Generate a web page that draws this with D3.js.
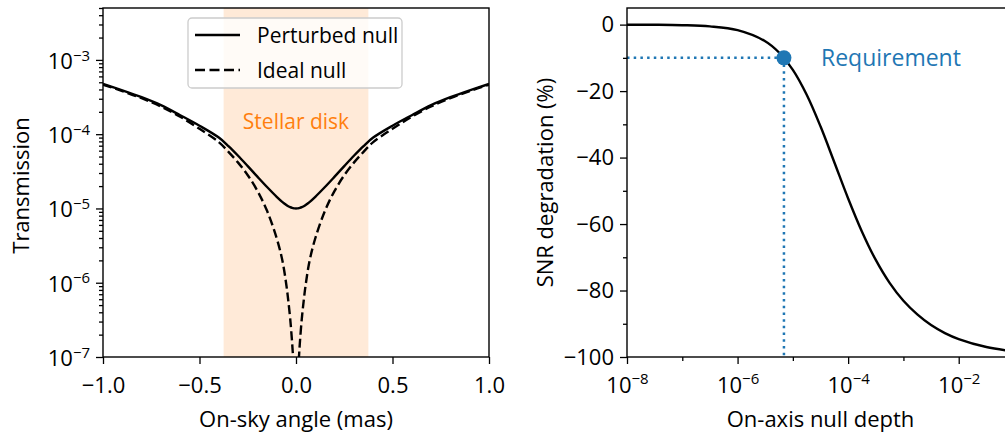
<!DOCTYPE html>
<html>
<head>
<meta charset="utf-8">
<script src="https://cdn.jsdelivr.net/npm/d3@7"></script>
<style>
  html, body { margin: 0; padding: 0; background: #fff; }
  svg { display: block; font-family: "Open Sans", "Noto Sans", sans-serif; }
  text { fill: #000; }
</style>
</head>
<body>
<svg id="chart" width="1005" height="434"></svg>
<script>
// ---------- Data ----------
// Left panel: transmission vs on-sky angle
const angle = [-1.0, -0.9, -0.8, -0.7, -0.6, -0.5, -0.4, -0.35, -0.3, -0.25, -0.2, -0.15, -0.1, -0.07, -0.05, -0.04, -0.03, -0.02, -0.015, -0.01, -0.005,
  0,
  0.005, 0.01, 0.015, 0.02, 0.03, 0.04, 0.05, 0.07, 0.1, 0.15, 0.2, 0.25, 0.3, 0.35, 0.4, 0.5, 0.6, 0.7, 0.8, 0.9, 1.0];
const perturbedNull = [4.75e-4, 3.9e-4, 3.15e-4, 2.46e-4, 1.8e-4, 1.3e-4, 9.0e-5, 6.92e-5, 5.13e-5, 3.72e-5, 2.68e-5, 1.944e-5, 1.436e-5, 1.219e-5, 1.114e-5, 1.072e-5, 1.04e-5, 1.0175e-5, 1.01e-5, 1.0043e-5, 1.001e-5,
  1.0e-5,
  1.001e-5, 1.0043e-5, 1.01e-5, 1.0175e-5, 1.04e-5, 1.072e-5, 1.114e-5, 1.219e-5, 1.436e-5, 1.944e-5, 2.68e-5, 3.72e-5, 5.13e-5, 6.92e-5, 9.0e-5, 1.3e-4, 1.8e-4, 2.46e-4, 3.15e-4, 3.9e-4, 4.75e-4];
const idealNull = [4.65e-4, 3.8e-4, 3.05e-4, 2.36e-4, 1.72e-4, 1.18e-4, 7.82e-5, 5.79e-5, 4.14e-5, 2.8e-5, 1.728e-5, 9.29e-6, 3.97e-6, 1.955e-6, 9.33e-7, 5.73e-7, 3.26e-7, 1.545e-7, 9.6e-8, 4.9e-8, 1.2e-8,
  1e-10,
  1.2e-8, 4.9e-8, 9.6e-8, 1.545e-7, 3.26e-7, 5.73e-7, 9.33e-7, 1.955e-6, 3.97e-6, 9.29e-6, 1.728e-5, 2.8e-5, 4.14e-5, 5.79e-5, 7.82e-5, 1.18e-4, 1.72e-4, 2.36e-4, 3.05e-4, 3.8e-4, 4.65e-4];
const stellarDisk = [-0.375, 0.375];
const leftXTicks = [-1.0, -0.5, 0.0, 0.5, 1.0];
const leftYTickExps = [-7, -6, -5, -4, -3];
const legendLabels = ["Perturbed null", "Ideal null"];

// Right panel: SNR degradation vs on-axis null depth
const nullDepth = [1e-8, 3.16e-8, 1e-7, 3.16e-7, 1e-6, 3.16e-6, 5.62e-6, 1e-5, 1.78e-5, 3.16e-5, 5.62e-5, 1e-4, 1.78e-4, 3.16e-4, 5.62e-4, 1e-3, 1.78e-3, 3.16e-3, 5.62e-3, 1e-2, 3.16e-2, 1e-1];
const snrDegradation = [-0.02, -0.05, -0.17, -0.53, -1.66, -4.99, -8.38, -13.6, -21.1, -30.6, -41.4, -52.3, -62.3, -70.8, -77.7, -83.1, -87.2, -90.4, -92.8, -94.6, -97.0, -98.3];
const requirement = { depth: 6.9e-6, snr: -10, label: "Requirement" };
const rightXTickExps = [-8, -6, -4, -2];
const rightXMinorExps = [-7, -5, -3, -1];
const rightYTicks = [-100, -80, -60, -40, -20, 0];
const rightYMinor = [-90, -70, -50, -30, -10];

// ---------- Layout ----------
const FS_LABEL = 22, FS_TICK = 22, FS_LEG = 21;
const FONT = "\"Open Sans\", \"Noto Sans\", sans-serif";
const BLUE = "#1f77b4", ORANGE = "#ff7f0e";
const svg = d3.select("#chart");
const L = { x0: 103, x1: 489, y0: 8, y1: 357 };
const R = { x0: 627, x1: 1014, y0: 8, y1: 357 };

function superLabel(sel, exp) {
  sel.text(null);
  sel.append("tspan").text("10");
  sel.append("tspan").attr("dy", "-0.55em").attr("font-size", "0.68em").text("\u2212" + Math.abs(exp));
}

const defs = svg.append("defs");
defs.append("clipPath").attr("id", "clipL")
  .append("rect").attr("x", L.x0).attr("y", L.y0).attr("width", L.x1 - L.x0).attr("height", L.y1 - L.y0);
defs.append("clipPath").attr("id", "clipR")
  .append("rect").attr("x", R.x0).attr("y", R.y0).attr("width", R.x1 - R.x0).attr("height", R.y1 - R.y0);

// ---------- Left panel ----------
const xL = d3.scaleLinear().domain([-1, 1]).range([L.x0, L.x1]);
const yL = d3.scaleLog().domain([1e-7, 5e-3]).range([L.y1, L.y0]);
const gL = svg.append("g");

gL.append("rect")
  .attr("x", xL(stellarDisk[0])).attr("y", L.y0)
  .attr("width", xL(stellarDisk[1]) - xL(stellarDisk[0])).attr("height", L.y1 - L.y0)
  .attr("fill", ORANGE).attr("fill-opacity", 0.16);

gL.append("text").attr("x", xL(0)).attr("y", 128.5).attr("text-anchor", "middle")
  .attr("font-size", FS_LEG).style("fill", ORANGE).text("Stellar disk");

const lineL = (vals) => d3.line().x((d, i) => xL(angle[i])).y(d => yL(d)).curve(d3.curveCatmullRom.alpha(0.5))(vals);
const curvesL = gL.append("g").attr("clip-path", "url(#clipL)");
curvesL.append("path").attr("d", lineL(idealNull)).attr("fill", "none").attr("stroke", "#000")
  .attr("stroke-width", 2.4).attr("stroke-dasharray", "9,4");
curvesL.append("path").attr("d", lineL(perturbedNull)).attr("fill", "none").attr("stroke", "#000")
  .attr("stroke-width", 2.4);

// Left axes
gL.append("g").attr("transform", `translate(0,${L.y1})`)
  .call(d3.axisBottom(xL).tickValues(leftXTicks).tickSize(7).tickPadding(13)
    .tickFormat(d => d3.format(".1f")(d).replace("-", "\u2212")));
const leftMinor = [];
for (let e = -7; e <= -3; e++) for (let m = 2; m <= 9; m++) { const v = m * Math.pow(10, e); if (v <= 5e-3) leftMinor.push(v); }
gL.append("g").attr("transform", `translate(${L.x0},0)`)
  .call(d3.axisLeft(yL).tickValues(leftMinor).tickSize(4).tickFormat(""));
const axYL = gL.append("g").attr("transform", `translate(${L.x0},0)`)
  .call(d3.axisLeft(yL).tickValues(leftYTickExps.map(e => Math.pow(10, e))).tickSize(7).tickPadding(6));
axYL.selectAll(".tick text").each(function (d, i) { superLabel(d3.select(this), leftYTickExps[i]); })
  .attr("dy", "0.38em");

gL.append("rect").attr("x", L.x0).attr("y", L.y0).attr("width", L.x1 - L.x0).attr("height", L.y1 - L.y0)
  .attr("fill", "none").attr("stroke", "#000").attr("stroke-width", 1.4);

gL.append("text").attr("transform", `translate(29,${(L.y0 + L.y1) / 2 + 3}) rotate(-90)`)
  .attr("text-anchor", "middle").attr("font-size", FS_LABEL).text("Transmission");
gL.append("text").attr("x", (L.x0 + L.x1) / 2).attr("y", 427).attr("text-anchor", "middle")
  .attr("font-size", FS_LABEL).text("On-sky angle (mas)");

// Legend
const lg = gL.append("g");
lg.append("rect").attr("x", 188).attr("y", 18).attr("width", 214).attr("height", 70).attr("rx", 4)
  .attr("fill", "#fff").attr("fill-opacity", 0.8).attr("stroke", "#cccccc").attr("stroke-width", 1.3);
legendLabels.forEach((lab, i) => {
  const yy = 35 + i * 35;
  lg.append("line").attr("x1", 195).attr("x2", 240).attr("y1", yy).attr("y2", yy)
    .attr("stroke", "#000").attr("stroke-width", 2.4).attr("stroke-dasharray", i === 1 ? "10,4.5" : null);
  lg.append("text").attr("x", 257).attr("y", yy + 7.5).attr("font-size", FS_LEG).text(lab);
});

// ---------- Right panel ----------
const xR = d3.scaleLog().domain([1e-8, 1e-1]).range([R.x0, R.x1]);
const yR = d3.scaleLinear().domain([-100, 5]).range([R.y1, R.y0]);
const gR = svg.append("g");

const lineR = d3.line().x((d, i) => xR(nullDepth[i])).y(d => yR(d)).curve(d3.curveCatmullRom.alpha(0.5));
gR.append("g").attr("clip-path", "url(#clipR)").append("path").attr("d", lineR(snrDegradation))
  .attr("fill", "none").attr("stroke", "#000").attr("stroke-width", 2.4);

// Requirement guides
gR.append("line").attr("x1", xR(1e-8)).attr("x2", xR(requirement.depth))
  .attr("y1", yR(requirement.snr)).attr("y2", yR(requirement.snr))
  .attr("stroke", BLUE).attr("stroke-width", 2.5).attr("stroke-dasharray", "2.5,4.2");
gR.append("line").attr("x1", xR(requirement.depth)).attr("x2", xR(requirement.depth))
  .attr("y1", yR(requirement.snr)).attr("y2", yR(-100))
  .attr("stroke", BLUE).attr("stroke-width", 2.5).attr("stroke-dasharray", "2.5,4.2");
gR.append("circle").attr("cx", xR(requirement.depth)).attr("cy", yR(requirement.snr)).attr("r", 7.5)
  .attr("fill", BLUE);
gR.append("text").attr("x", 821).attr("y", yR(requirement.snr) + 8).attr("font-size", 23)
  .style("fill", BLUE).text(requirement.label);

// Right axes
gR.append("g").attr("transform", `translate(0,${R.y1})`)
  .call(d3.axisBottom(xR).tickValues(rightXMinorExps.map(e => Math.pow(10, e))).tickSize(4).tickFormat(""));
const axXR = gR.append("g").attr("transform", `translate(0,${R.y1})`)
  .call(d3.axisBottom(xR).tickValues(rightXTickExps.map(e => Math.pow(10, e))).tickSize(7).tickPadding(13));
axXR.selectAll(".tick text").each(function (d, i) { superLabel(d3.select(this), rightXTickExps[i]); });
gR.append("g").attr("transform", `translate(${R.x0},0)`)
  .call(d3.axisLeft(yR).tickValues(rightYMinor).tickSize(4).tickFormat(""));
gR.append("g").attr("transform", `translate(${R.x0},0)`)
  .call(d3.axisLeft(yR).tickValues(rightYTicks).tickSize(7).tickPadding(6)
    .tickFormat(d => String(d).replace("-", "\u2212")));

gR.append("rect").attr("x", R.x0).attr("y", R.y0).attr("width", R.x1 - R.x0).attr("height", R.y1 - R.y0)
  .attr("fill", "none").attr("stroke", "#000").attr("stroke-width", 1.4);

gR.append("text").attr("transform", `translate(553,${(R.y0 + R.y1) / 2}) rotate(-90)`)
  .attr("text-anchor", "middle").attr("font-size", FS_LABEL).text("SNR degradation (%)");
gR.append("text").attr("x", (R.x0 + R.x1) / 2).attr("y", 427).attr("text-anchor", "middle")
  .attr("font-size", FS_LABEL).text("On-axis null depth");

// Axis styling
svg.selectAll(".domain").remove();
svg.selectAll(".tick line").attr("stroke", "#000").attr("stroke-width", 1.3);
svg.selectAll(".tick text").attr("font-size", FS_TICK).attr("font-family", FONT).style("fill", "#000");
</script>
</body>
</html>
